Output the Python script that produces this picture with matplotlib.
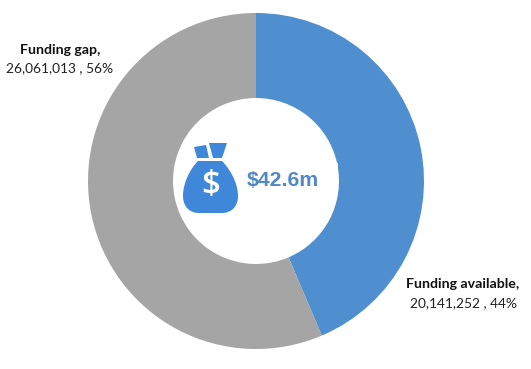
import matplotlib
matplotlib.use("Agg")
import matplotlib.pyplot as plt
from matplotlib.patches import PathPatch, Polygon, Rectangle
from matplotlib.path import Path

labels = ["Funding available", "Funding gap"]
values = [20141252, 26061013]
shares = ["44%", "56%"]
colors = ["#4F8FD0", "#A5A5A5"]
total_text = "$42.6m"

W, H = 531, 369

fig = plt.figure(figsize=(W / 100, H / 100), dpi=100, facecolor="white")
ax = fig.add_axes([0, 0, 1, 1])

# donut, starts at 12 o'clock and runs clockwise
ax.pie(values, colors=colors, startangle=90, counterclock=False,
       center=(256, H - 181), radius=168,
       wedgeprops=dict(width=85, linewidth=0), frame=False)
ax.set_xlim(0, W)
ax.set_ylim(0, H)
ax.set_aspect("equal")
ax.axis("off")


def py(y):
    # picture rows to axes y
    return H - y


# white box behind the total, runs over the ring edge
ax.add_patch(Rectangle((245, py(192)), 93, 29, facecolor="white", edgecolor="none", zorder=3))

# money bag icon
icon_color = "#3F87D9"
bag = Path(
    [(198, py(161)), (222, py(161)),
     (230, py(169)), (238, py(183)), (238, py(196)),
     (238, py(207)), (231, py(213)), (222, py(213)),
     (199, py(213)),
     (190, py(213)), (183, py(207)), (183, py(196)),
     (183, py(183)), (190, py(169)), (198, py(161))],
    [Path.MOVETO, Path.LINETO,
     Path.CURVE4, Path.CURVE4, Path.CURVE4,
     Path.CURVE4, Path.CURVE4, Path.CURVE4,
     Path.LINETO,
     Path.CURVE4, Path.CURVE4, Path.CURVE4,
     Path.CURVE4, Path.CURVE4, Path.CURVE4],
)
ax.add_patch(PathPatch(bag, facecolor=icon_color, edgecolor="none", zorder=4))
ax.add_patch(Polygon([(194, py(147)), (206, py(145)), (209, py(158)), (197, py(158))],
                     facecolor=icon_color, edgecolor="none", zorder=4))
ax.add_patch(Polygon([(209, py(143)), (227, py(143)), (222, py(158)), (213, py(158))],
                     facecolor=icon_color, edgecolor="none", zorder=4))
ax.text(210.5, py(186), "$", color="white", fontsize=24,
        family="Open Sans", fontweight="semibold", ha="center", va="center", zorder=5)

ax.text(247, py(180), total_text, color="#5089C6", fontsize=15.3, fontweight="bold",
        family="Liberation Sans", ha="left", va="center", zorder=5)

# labels
ax.text(60, py(50), labels[1] + ",", fontsize=10.2, fontweight="bold", family="Lato",
        color="#111111", ha="center", va="center")
ax.text(60, py(68), f"{values[1]:,} , {shares[1]}", fontsize=9.9, family="Lato",
        color="#222222", ha="center", va="center")
ax.text(463, py(284), labels[0] + ",", fontsize=10.2, fontweight="bold", family="Lato",
        color="#111111", ha="center", va="center")
ax.text(463, py(303), f"{values[0]:,} , {shares[0]}", fontsize=9.9, family="Lato",
        color="#222222", ha="center", va="center")

fig.savefig("out.png", dpi=100)
